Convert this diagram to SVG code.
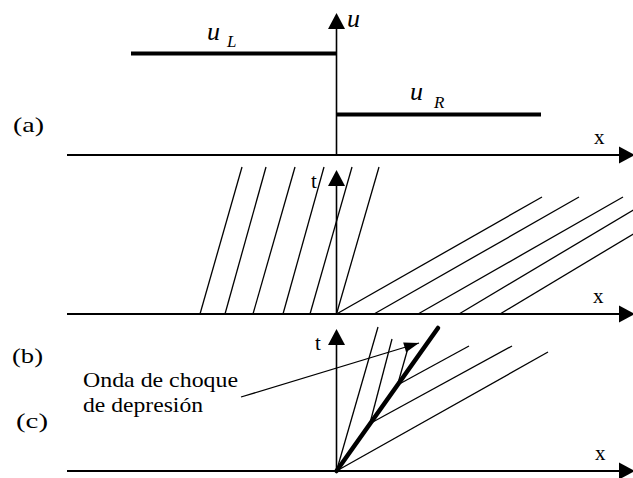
<svg xmlns="http://www.w3.org/2000/svg" width="633" height="478" viewBox="0 0 633 478">
<style>
.ax{stroke:#000;stroke-width:2;fill:none}
.vax{stroke:#000;stroke-width:1.6;fill:none}
.ch{stroke:#000;stroke-width:1.3;fill:none}
.thick{stroke:#000;stroke-width:4;fill:none}
.shock{stroke:#000;stroke-width:4.5;fill:none;stroke-linecap:round}
text{font-family:"Liberation Serif","Times New Roman",serif;fill:#000}
.lbl{font-size:21px}
.it{font-style:italic}
</style>
<defs>
<marker id="axh" markerUnits="userSpaceOnUse" markerWidth="16" markerHeight="17" refX="0" refY="8.5" orient="auto" overflow="visible">
<path d="M0,0 L16,8.5 L0,17 z" fill="#000"/>
</marker>
<marker id="arr" markerUnits="userSpaceOnUse" markerWidth="16" markerHeight="10" refX="15" refY="5" orient="auto" overflow="visible">
<path d="M0,0 L15,5 L0,10 z" fill="#000"/>
</marker>
</defs>

<g id="panel-a">
<text class="lbl" x="13" y="132" textLength="31" lengthAdjust="spacingAndGlyphs">(a)</text>
<line class="ax" x1="67" y1="155" x2="619" y2="155" marker-end="url(#axh)"/>
<line class="vax" x1="336.5" y1="155" x2="336.5" y2="29" marker-end="url(#axh)"/>
<text class="it" x="347" y="27" font-size="26">u</text>
<text class="lbl" x="594" y="144">x</text>
<line class="thick" x1="131" y1="53.5" x2="336.5" y2="53.5"/>
<line class="thick" x1="336.5" y1="114.5" x2="541" y2="114.5"/>
<text class="it" x="207" y="40" font-size="26">u</text>
<text class="it" x="227" y="47" font-size="17">L</text>
<text class="it" x="410" y="100" font-size="26">u</text>
<text class="it" x="434" y="108" font-size="17">R</text>
</g>

<g id="panel-b">
<text class="lbl" x="12" y="363" textLength="31" lengthAdjust="spacingAndGlyphs">(b)</text>
<line class="ax" x1="67" y1="314" x2="619" y2="314" marker-end="url(#axh)"/>
<line class="vax" x1="336.5" y1="314" x2="336.5" y2="186" marker-end="url(#axh)"/>
<text class="lbl" x="311" y="188">t</text>
<text class="lbl" x="593" y="303">x</text>
</g>

<g id="panel-c">
<text class="lbl" x="16" y="428" textLength="32" lengthAdjust="spacingAndGlyphs">(c)</text>
<line class="ax" x1="67" y1="471" x2="619" y2="471" marker-end="url(#axh)"/>
<line class="vax" x1="336.5" y1="471" x2="336.5" y2="345" marker-end="url(#axh)"/>
<text class="lbl" x="315" y="350">t</text>
<text class="lbl" x="595" y="460">x</text>
<text class="lbl" x="83" y="387" textLength="155" lengthAdjust="spacingAndGlyphs">Onda de choque</text>
<text class="lbl" x="83" y="412" textLength="120" lengthAdjust="spacingAndGlyphs">de depresión</text>
</g>

<g id="connectors">
<!-- (b) left characteristics -->
<line class="ch" x1="200" y1="314" x2="242" y2="167"/>
<line class="ch" x1="225" y1="314" x2="266" y2="167"/>
<line class="ch" x1="253" y1="314" x2="295" y2="167"/>
<line class="ch" x1="283" y1="314" x2="324" y2="167"/>
<line class="ch" x1="310" y1="314" x2="352" y2="167"/>
<line class="ch" x1="336.5" y1="314" x2="379" y2="167"/>
<!-- (b) right characteristics -->
<line class="ch" x1="336.5" y1="314" x2="542" y2="197"/>
<line class="ch" x1="374" y1="314" x2="579" y2="197"/>
<line class="ch" x1="418" y1="314" x2="623" y2="197"/>
<line class="ch" x1="459" y1="314" x2="640" y2="206"/>
<line class="ch" x1="500" y1="314" x2="640" y2="230"/>
<!-- (c) characteristics -->
<line class="ch" x1="336.5" y1="471" x2="378" y2="327"/>
<line class="ch" x1="369.5" y1="425" x2="392" y2="339"/>
<line class="ch" x1="397.5" y1="385" x2="408" y2="348"/>
<line class="ch" x1="397.5" y1="385" x2="469" y2="346"/>
<line class="ch" x1="371" y1="423" x2="512" y2="346"/>
<line class="ch" x1="336.5" y1="471" x2="548" y2="352"/>
<line class="shock" x1="336.5" y1="471" x2="438" y2="328"/>
<!-- annotation arrow -->
<line class="ch" x1="241" y1="397" x2="419" y2="343" marker-end="url(#arr)"/>
</g>
</svg>
